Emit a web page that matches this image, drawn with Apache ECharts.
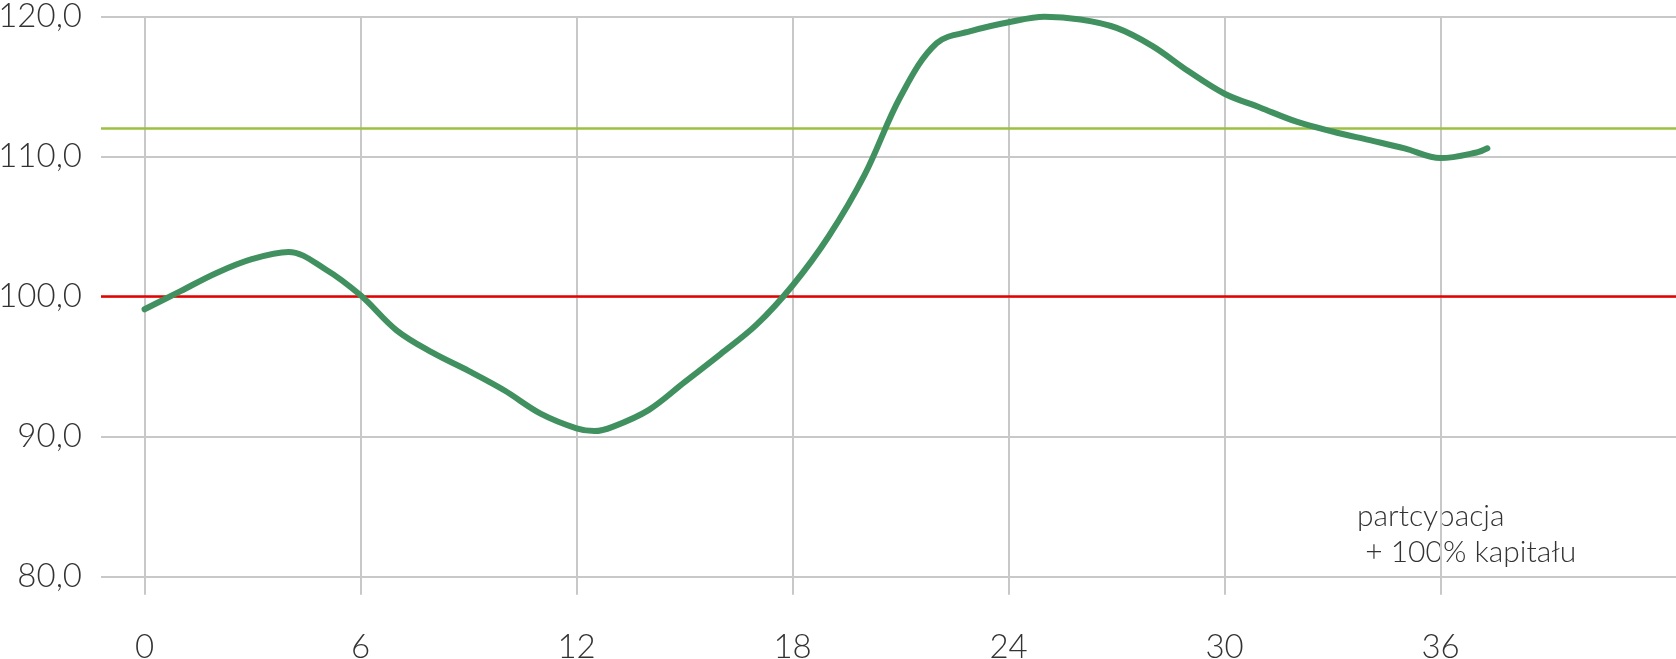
<!DOCTYPE html>
<html>
<head>
<meta charset="utf-8">
<script src="https://cdn.jsdelivr.net/npm/echarts@6/dist/echarts.min.js"></script>
<style>
html,body{margin:0;padding:0;background:#fff;}
#chart{width:1676px;height:659px;}
</style>
</head>
<body>
<div id="chart"></div>
<script>
// months (x) and index values (y)
const months = [0,1,2,3,4,5,6,7,8,9,10,11,12,12.5,13,14,15,16,17,18,19,20,21,22,23,24,25,26,27,28,29,30,31,32,33,34,35,36,37,37.3];
const values = [99.1,100.4,101.7,102.7,103.2,102.0,100.1,97.6,96.0,94.7,93.3,91.65,90.6,90.4,90.7,91.9,93.9,95.9,98.0,100.8,104.3,108.7,114.3,118.1,119.0,119.6,120.0,119.8,119.2,117.9,116.1,114.5,113.5,112.5,111.8,111.2,110.6,109.9,110.3,110.6];
const xTicks = [0,6,12,18,24,30,36];
const yTicks = [80,90,100,110,120];
const thresholdCapital = 100;   // red line
const thresholdParticipation = 112; // green line
const noteText = 'partcypacja\n + 100% kapitału';

const chart = echarts.init(document.getElementById('chart'));
const grey = '#c8c8c8';
const FONT = 'Lato';

chart.setOption({
  animation: false,
  backgroundColor: '#ffffff',
  grid: { left: 101, right: 0, top: 16.7, bottom: 82.3, containLabel: false, outerBoundsMode: 'none' },
  xAxis: {
    type: 'value',
    min: -1.21,
    max: 42.54,
    axisLine: { show: false },
    axisTick: { show: true, length: 18, lineStyle: { color: grey, width: 2 }, customValues: xTicks },
    axisLabel: {
      customValues: xTicks,
      margin: 54,
      fontFamily: FONT, fontWeight: 300, fontSize: 33, color: '#333'
    },
    splitLine: { show: true, lineStyle: { color: grey, width: 2 } }
  },
  yAxis: {
    type: 'value',
    min: yTicks[0],
    max: yTicks[yTicks.length - 1],
    interval: 10,
    axisLine: { show: false },
    axisTick: { show: false },
    axisLabel: {
      margin: 19,
      fontFamily: FONT, fontWeight: 300, fontSize: 33, color: '#333',
      formatter: v => v.toFixed(1).replace('.', ',')
    },
    splitLine: { show: true, lineStyle: { color: grey, width: 2 } }
  },
  series: [{
    type: 'line',
    data: months.map((m, i) => [m, values[i]]),
    smooth: 0.35,
    symbol: 'none',
    clip: false,
    z: 3,
    lineStyle: { color: '#40915f', width: 6, cap: 'round', join: 'round' },
    markLine: {
      z: 1,
      silent: true,
      symbol: ['none', 'none'],
      label: { show: false },
      data: [
        { yAxis: thresholdCapital, lineStyle: { color: '#e60000', width: 2.5, type: 'solid' } },
        { yAxis: thresholdParticipation, lineStyle: { color: '#9dc040', width: 2.5, type: 'solid' } }
      ]
    }
  }],
  graphic: [{
    type: 'text',
    left: 1357,
    top: 498,
    style: {
      text: noteText,
      fontFamily: FONT, fontWeight: 300, fontSize: 30, lineHeight: 36,
      fill: '#333'
    }
  }]
});
</script>
</body>
</html>
